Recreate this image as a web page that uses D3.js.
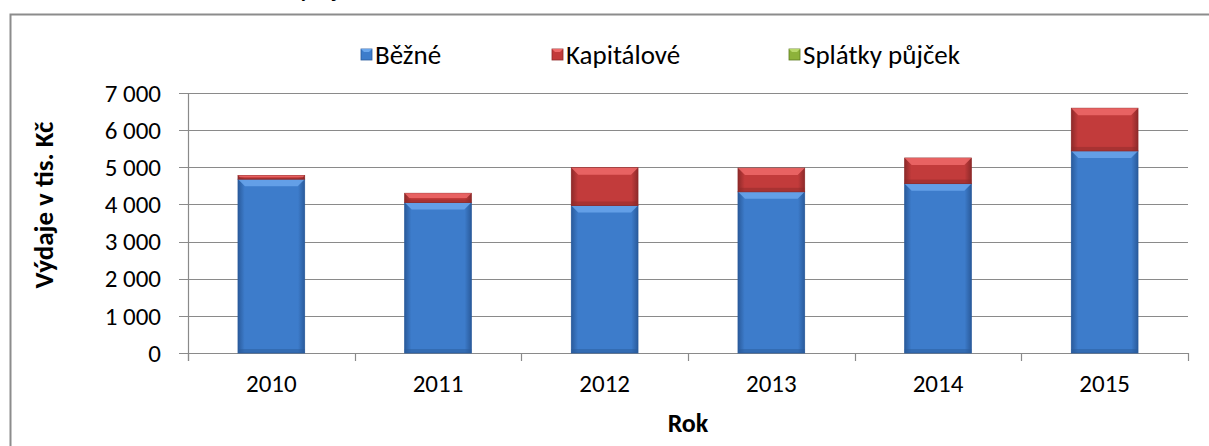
<!DOCTYPE html>
<html>
<head>
<meta charset="utf-8">
<script src="https://cdn.jsdelivr.net/npm/d3@7"></script>
<style>
  body { margin: 0; background: #fff; }
  svg { display: block; font-family: Carlito, "Open Sans", sans-serif; }
</style>
</head>
<body>
<div id="chart"></div>
<script>
// data
const years = ['2010', '2011', '2012', '2013', '2014', '2015'];
const bezne = [4680, 4050, 3970, 4340, 4560, 5440];
const kapitalove = [100, 250, 1020, 640, 690, 1150];
const splatky = [0, 0, 0, 0, 0, 0];
const seriesNames = ['Běžné', 'Kapitálové', 'Splátky půjček'];
const yTicks = [0, 1000, 2000, 3000, 4000, 5000, 6000, 7000];

const width = 1209;
const height = 446;
const margin = { top: 93, right: 21, bottom: 93, left: 188 };

const svg = d3.select('#chart')
    .append('svg')
    .attr('width', width)
    .attr('height', height);

// gradients for bevelled bars
const defs = svg.append('defs');
const colors = [
    { id: 'blue', dark: '#2a5b9c', mid: '#3d7ccb', light: '#6aa6ec' },
    { id: 'red', dark: '#8e2a2a', mid: '#c23b3b', light: '#ee6a6a' },
    { id: 'green', dark: '#5e7a22', mid: '#8db23a', light: '#b8d86a' }
];
colors.forEach(c => {
    const g = defs.append('linearGradient').attr('id', 'g-' + c.id)
        .attr('x1', 0).attr('x2', 1).attr('y1', 0).attr('y2', 0);
    g.append('stop').attr('offset', '0%').attr('stop-color', c.dark);
    g.append('stop').attr('offset', '10%').attr('stop-color', c.mid);
    g.append('stop').attr('offset', '90%').attr('stop-color', c.mid);
    g.append('stop').attr('offset', '100%').attr('stop-color', c.dark);
});

// outer frame (cut off on right and bottom)
svg.append('path')
    .attr('d', `M10.5,${height + 5} V14.5 H${width + 5}`)
    .attr('fill', 'none')
    .attr('stroke', '#8c8c8c')
    .attr('stroke-width', 2);

// title, mostly outside the picture
svg.append('text')
    .attr('x', 287)
    .attr('y', -3)
    .text('Výdaje obce')
    .style('font-size', '22px')
    .style('font-weight', 'bold')
    .style('fill', '#000');

const xScale = d3.scaleBand()
    .domain(years)
    .range([margin.left, width - margin.right])
    .padding(0);

const yScale = d3.scaleLinear()
    .domain([0, 7000])
    .range([height - margin.bottom, margin.top]);

// gridlines
svg.append('g')
    .selectAll('line')
    .data(yTicks)
    .join('line')
    .attr('x1', margin.left - 9)
    .attr('x2', width - margin.right)
    .attr('y1', d => Math.round(yScale(d)) + 0.5)
    .attr('y2', d => Math.round(yScale(d)) + 0.5)
    .attr('stroke', '#8a8a8a')
    .attr('stroke-width', 1.2);

// y axis line
svg.append('line')
    .attr('x1', margin.left + 0.5).attr('x2', margin.left + 0.5)
    .attr('y1', margin.top).attr('y2', height - margin.bottom + 8)
    .attr('stroke', '#8a8a8a').attr('stroke-width', 1.2);

// x ticks at category boundaries
const boundaries = years.map(y => xScale(y)).concat([width - margin.right]);
svg.append('g')
    .selectAll('line')
    .data(boundaries)
    .join('line')
    .attr('x1', d => Math.round(d) + 0.5)
    .attr('x2', d => Math.round(d) + 0.5)
    .attr('y1', height - margin.bottom)
    .attr('y2', height - margin.bottom + 8)
    .attr('stroke', '#8a8a8a').attr('stroke-width', 1.2);

// y tick labels
const fmt = d => d3.format(',')(d).replace(/,/g, ' ');
svg.append('g')
    .selectAll('text')
    .data(yTicks)
    .join('text')
    .attr('x', margin.left - 27)
    .attr('y', d => yScale(d))
    .attr('dy', '0.35em')
    .attr('text-anchor', 'end')
    .text(fmt)
    .style('font-size', '25px')
    .style('fill', '#000');

// x tick labels
svg.append('g')
    .selectAll('text')
    .data(years)
    .join('text')
    .attr('x', d => xScale(d) + xScale.bandwidth() / 2)
    .attr('y', 383)
    .attr('dy', '0.35em')
    .attr('text-anchor', 'middle')
    .text(d => d)
    .style('font-size', '25px')
    .style('fill', '#000');

// stacked bars
const rows = years.map((y, i) => ({ year: y, b: bezne[i], k: kapitalove[i], s: splatky[i] }));
const stack = d3.stack().keys(['b', 'k', 's'])(rows);
const barW = xScale.bandwidth() * 0.4;
const fills = ['blue', 'red', 'green'];

stack.forEach((layer, li) => {
    const c = colors[li];
    const g = svg.append('g');
    layer.forEach(d => {
        const x0 = xScale(d.data.year) + (xScale.bandwidth() - barW) / 2;
        const y0 = yScale(d[1]);
        const h = yScale(d[0]) - yScale(d[1]);
        if (h <= 0.5) return;
        g.append('rect')
            .attr('x', x0).attr('y', y0)
            .attr('width', barW).attr('height', h)
            .attr('fill', 'url(#g-' + fills[li] + ')')
            .attr('stroke', c.dark).attr('stroke-width', 0.8);
        // bevel highlight at top
        const bev = Math.min(7, h / 2);
        g.append('path')
            .attr('d', `M${x0},${y0} H${x0 + barW} L${x0 + barW - bev},${y0 + bev} H${x0 + bev} Z`)
            .attr('fill', c.light)
            .attr('opacity', 0.85);
        // darker bottom edge
        const bb = Math.min(4, h / 3);
        g.append('rect')
            .attr('x', x0).attr('y', y0 + h - bb)
            .attr('width', barW).attr('height', bb)
            .attr('fill', c.dark).attr('opacity', 0.5);
    });
});

// legend
const legendX = [361, 552, 789];
const leg = svg.append('g');
seriesNames.forEach((name, i) => {
    const c = colors[i];
    leg.append('rect')
        .attr('x', legendX[i]).attr('y', 49)
        .attr('width', 11).attr('height', 11)
        .attr('fill', c.mid).attr('stroke', c.dark).attr('stroke-width', 0.8);
    leg.append('path')
        .attr('d', `M${legendX[i]},49 h11 l-3,3 h-5 z`)
        .attr('fill', c.light);
    leg.append('text')
        .attr('x', legendX[i] + 14)
        .attr('y', 55)
        .attr('dy', '0.35em')
        .text(name)
        .style('font-size', '27px')
        .style('fill', '#000');
});

// axis titles
svg.append('text')
    .attr('x', (margin.left + width - margin.right) / 2)
    .attr('y', 423)
    .attr('dy', '0.35em')
    .attr('text-anchor', 'middle')
    .text('Rok')
    .style('font-size', '26px')
    .style('font-weight', 'bold')
    .style('fill', '#000');

svg.append('text')
    .attr('transform', 'rotate(-90)')
    .attr('x', -205)
    .attr('y', 44)
    .attr('dy', '0.35em')
    .attr('text-anchor', 'middle')
    .text('Výdaje v tis. Kč')
    .style('font-size', '27px')
    .style('font-weight', 'bold')
    .style('fill', '#000');
</script>
</body>
</html>
